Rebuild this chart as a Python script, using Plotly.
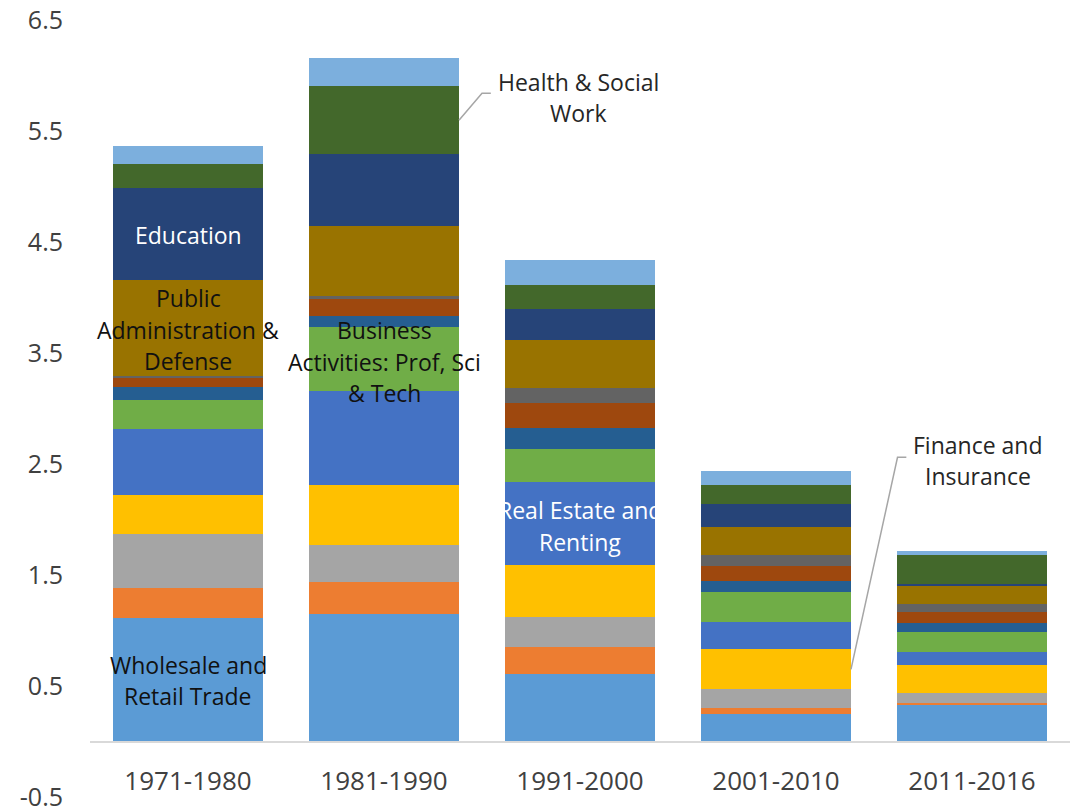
import plotly.graph_objects as go

periods = ["1971-1980", "1981-1990", "1991-2000", "2001-2010", "2011-2016"]

sectors = [
    "Wholesale and Retail Trade",
    "Transport & Storage",
    "Accommodation & Food",
    "Finance and Insurance",
    "Real Estate and Renting",
    "Business Activities: Prof, Sci & Tech",
    "Information & Communication",
    "Administrative Services",
    "Arts & Recreation",
    "Public Administration & Defense",
    "Education",
    "Health & Social Work",
    "Other Services",
]

wholesale = [1.117, 1.150, 0.610, 0.250, 0.331]
transport = [0.264, 0.291, 0.243, 0.056, 0.020]
accommodation = [0.484, 0.333, 0.273, 0.165, 0.084]
finance = [0.360, 0.540, 0.466, 0.358, 0.256]
real_estate = [0.586, 0.841, 0.750, 0.249, 0.114]
business = [0.270, 0.577, 0.289, 0.271, 0.183]
information = [0.111, 0.105, 0.195, 0.101, 0.081]
administrative = [0.087, 0.150, 0.228, 0.127, 0.102]
arts = [0.018, 0.030, 0.129, 0.099, 0.070]
public_admin = [0.865, 0.631, 0.436, 0.258, 0.162]
education = [0.829, 0.642, 0.273, 0.207, 0.018]
health = [0.209, 0.613, 0.222, 0.174, 0.261]
other = [0.169, 0.256, 0.228, 0.126, 0.032]

series = [wholesale, transport, accommodation, finance, real_estate, business,
          information, administrative, arts, public_admin, education, health, other]

colors = ["#5B9BD5", "#ED7D31", "#A5A5A5", "#FFC000", "#4472C4", "#70AD47",
          "#255E91", "#9E480E", "#636363", "#997300", "#264478", "#43682B", "#7CAFDD"]

y_ticks = [-0.5, 0.5, 1.5, 2.5, 3.5, 4.5, 5.5, 6.5]

FONT = "Open Sans"
TICK_COLOR = "#404040"
BARGAP = 0.235
LINE_H = 31.5

fig = go.Figure()
for name, vals, col in zip(sectors, series, colors):
    fig.add_trace(go.Bar(x=periods, y=vals, name=name, marker=dict(color=col, line=dict(width=0)),
                         hoverinfo="name+y"))


def cum_below(idx_series, idx_period):
    return sum(series[k][idx_period] for k in range(idx_series))


def seg_mid(idx_series, idx_period):
    return cum_below(idx_series, idx_period) + series[idx_series][idx_period] / 2


def add_label(x, y, lines, color):
    n = len(lines)
    for i, line in enumerate(lines):
        fig.add_annotation(x=x, y=y, xref="x", yref="y", text=line, showarrow=False,
                           yshift=((n - 1) / 2 - i) * LINE_H,
                           font=dict(family=FONT, size=23, color=color), align="center")


# In-bar labels
inbar = [
    (0, 4.56, ["Education"], "white"),
    (0, 3.71, ["Public", "Administration &", "Defense"], "#111111"),
    (1, 3.42, ["Business", "Activities: Prof, Sci", "& Tech"], "#111111"),
    (2, 1.94, ["Real Estate and", "Renting"], "white"),
    (0, 0.55, ["Wholesale and", "Retail Trade"], "#111111"),
]
for pi, y, lines, col in inbar:
    add_label(pi, y, lines, col)

# Callout labels with leader lines
half = (1 - BARGAP) / 2
callouts = [
    # series idx, period idx, lines, text x, text y, elbow x, elbow y
    (11, 1, ["Health & Social", "Work"], 1.99, 5.80, 1.50, 5.84),
    (3, 3, ["Finance and", "Insurance"], 4.03, 2.53, 3.62, 2.56),
]
for si, pi, lines, tx, ty, ex, ey in callouts:
    sx = pi + half
    sy = seg_mid(si, pi)
    fig.add_shape(type="path", xref="x", yref="y",
                  path=f"M {sx} {sy} L {ex} {ey} L {ex + 0.045} {ey}",
                  line=dict(color="#A6A6A6", width=1.5))
    add_label(tx, ty, lines, "#262626")

fig.update_layout(
    width=1081, height=830,
    barmode="stack", bargap=BARGAP,
    showlegend=False,
    paper_bgcolor="white", plot_bgcolor="white",
    margin=dict(l=90, r=11, t=20, b=33, autoexpand=False),
    font=dict(family=FONT, size=24, color=TICK_COLOR),
    xaxis=dict(
        type="category", anchor="free", position=0.5 / 7, automargin=False,
        showline=True, linecolor="#D9D9D9", linewidth=1.5,
        showgrid=False, zeroline=False, ticks="",
        ticklabelstandoff=17,
        tickfont=dict(family=FONT, size=26, color=TICK_COLOR),
        range=[-0.5, 4.5],
    ),
    yaxis=dict(
        range=[-0.5, 6.5], tickvals=y_ticks, ticktext=[f"{v:g}" for v in y_ticks],
        showgrid=False, zeroline=False, showline=False, ticks="", automargin=False,
        ticklabelstandoff=26,
        tickfont=dict(family=FONT, size=25, color=TICK_COLOR),
    ),
)

fig.write_html("out.html",
               config={"displayModeBar": False},
               post_script="document.body.style.margin='0px';document.body.style.overflow='hidden';")
